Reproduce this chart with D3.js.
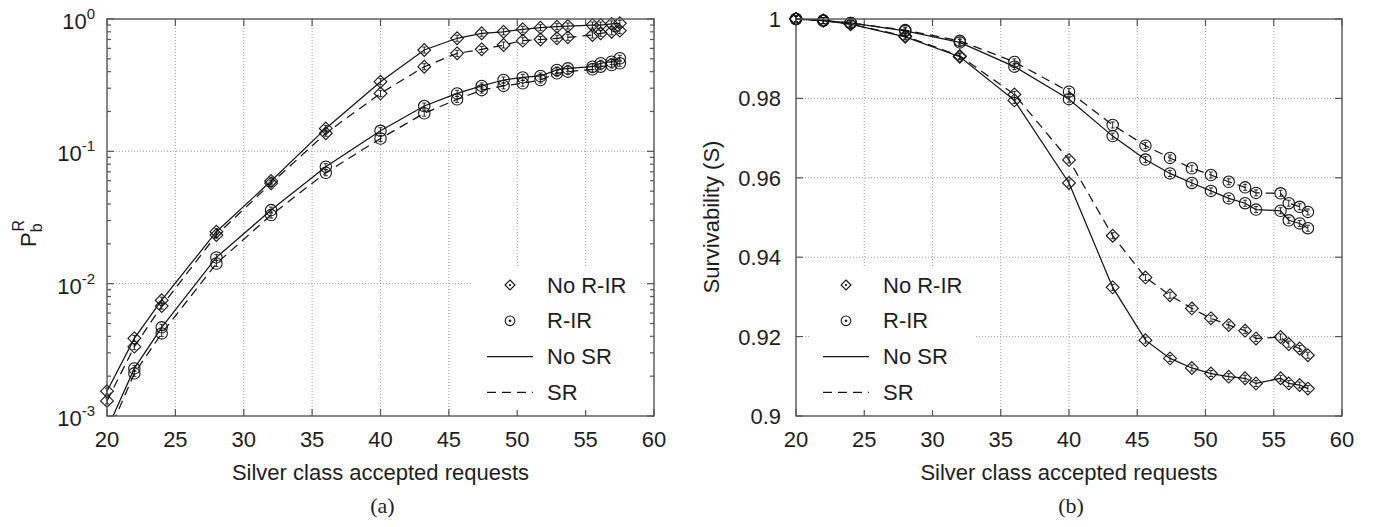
<!DOCTYPE html>
<html>
<head>
<meta charset="utf-8">
<script src="https://cdn.jsdelivr.net/npm/d3@7"></script>
<style>
  body { margin: 0; background: #fff; }
  text { font-family: "Liberation Sans", Arial, sans-serif; fill: #1e1e1e; }
</style>
</head>
<body>
<svg id="fig" width="1376" height="527"></svg>
<script>
// x values (silver class accepted requests) shared by all series
const xVals = [20, 22, 24, 28, 32, 36, 40, 43.2, 45.6, 47.4, 49, 50.4, 51.7, 52.9, 53.7, 55.5, 56.1, 56.9, 57.5];
const xTicks = [20, 25, 30, 35, 40, 45, 50, 55, 60];

// (a) blocking probability P_b^R
const pbNoRirNoSr = [0.00154, 0.00386, 0.0075, 0.0247, 0.0597, 0.149, 0.336, 0.583, 0.715, 0.78, 0.80, 0.836, 0.86, 0.875, 0.885, 0.90, 0.90, 0.917, 0.928];
const pbNoRirSr   = [0.0013, 0.00334, 0.00677, 0.0233, 0.0573, 0.137, 0.274, 0.436, 0.55, 0.59, 0.636, 0.686, 0.70, 0.715, 0.727, 0.757, 0.78, 0.80, 0.816];
const pbRirNoSr   = [0.00079, 0.00229, 0.00468, 0.0158, 0.036, 0.0765, 0.143, 0.22, 0.274, 0.312, 0.346, 0.362, 0.371, 0.412, 0.424, 0.436, 0.463, 0.476, 0.505];
const pbRirSr     = [0.0007, 0.0021, 0.00421, 0.0142, 0.033, 0.0689, 0.125, 0.194, 0.247, 0.29, 0.312, 0.327, 0.346, 0.389, 0.40, 0.417, 0.436, 0.449, 0.463];
const pbTicks = [1e-3, 1e-2, 1e-1, 1];
const pbTickExp = ["-3", "-2", "-1", "0"];

// (b) survivability S
const sNoRirNoSr = [1.0, 0.9996, 0.9987, 0.9955, 0.9905, 0.9795, 0.9587, 0.9324, 0.9191, 0.9145, 0.9121, 0.9107, 0.9099, 0.9095, 0.9082, 0.9095, 0.9082, 0.9078, 0.9069];
const sNoRirSr   = [1.0, 0.9996, 0.9987, 0.9957, 0.9907, 0.981, 0.9645, 0.9454, 0.9349, 0.9304, 0.9271, 0.9246, 0.9229, 0.9215, 0.9195, 0.9199, 0.9181, 0.917, 0.9153];
const sRirNoSr   = [1.0, 0.9996, 0.999, 0.997, 0.9941, 0.988, 0.9798, 0.9705, 0.9646, 0.9611, 0.9587, 0.9567, 0.9548, 0.9536, 0.952, 0.9517, 0.9493, 0.9485, 0.9473];
const sRirSr     = [1.0, 0.9996, 0.999, 0.9972, 0.9945, 0.9892, 0.9817, 0.9733, 0.9681, 0.965, 0.9624, 0.9607, 0.959, 0.9576, 0.9562, 0.9561, 0.9536, 0.9527, 0.9514];
const sTicks = [0.9, 0.92, 0.94, 0.96, 0.98, 1];
const sTickLabels = ["0.9", "0.92", "0.94", "0.96", "0.98", "1"];

const legendLabels = ["No R-IR", "R-IR", "No SR", "SR"];
const xTitle = "Silver class accepted requests";

const svg = d3.select("#fig");
const axisColor = "#555";
const lineColor = "#151515";

function diamondPath(s) {
  return `M0,${-s}L${s},0L0,${s}L${-s},0Z`;
}

function drawPanel(o) {
  const g = svg.append("g").attr("id", o.id);
  const x = d3.scaleLinear([20, 60], [o.left, o.right]);
  const y = o.y;
  const top = o.top, bottom = o.bottom;

  // grid
  g.append("g").selectAll("line").data(xTicks.slice(1, -1)).join("line")
    .attr("x1", d => x(d)).attr("x2", d => x(d))
    .attr("y1", top).attr("y2", bottom)
    .attr("stroke", "#888").attr("stroke-width", 0.8).attr("stroke-dasharray", "1,2");
  g.append("g").selectAll("line").data(o.yTicks.slice(1, -1)).join("line")
    .attr("x1", o.left).attr("x2", o.right)
    .attr("y1", d => y(d)).attr("y2", d => y(d))
    .attr("stroke", "#888").attr("stroke-width", 0.8).attr("stroke-dasharray", "1,2");

  // ticks (inward)
  const tk = g.append("g").attr("stroke", axisColor).attr("stroke-width", 1.2);
  xTicks.forEach(d => {
    tk.append("line").attr("x1", x(d)).attr("x2", x(d)).attr("y1", bottom).attr("y2", bottom - 7);
    tk.append("line").attr("x1", x(d)).attr("x2", x(d)).attr("y1", top).attr("y2", top + 7);
  });
  o.yTicks.forEach(d => {
    tk.append("line").attr("x1", o.left).attr("x2", o.left + 7).attr("y1", y(d)).attr("y2", y(d));
    tk.append("line").attr("x1", o.right).attr("x2", o.right - 7).attr("y1", y(d)).attr("y2", y(d));
  });
  (o.minorTicks || []).forEach(d => {
    tk.append("line").attr("x1", o.left).attr("x2", o.left + 4).attr("y1", y(d)).attr("y2", y(d));
    tk.append("line").attr("x1", o.right).attr("x2", o.right - 4).attr("y1", y(d)).attr("y2", y(d));
  });

  // tick labels
  g.append("g").selectAll("text").data(xTicks).join("text")
    .attr("x", d => x(d)).attr("y", bottom + 31)
    .attr("text-anchor", "middle").attr("font-size", 22)
    .text(d => d);
  o.yLabels(g, y);

  // axis titles
  g.append("text").attr("x", (o.left + o.right) / 2).attr("y", bottom + 64)
    .attr("text-anchor", "middle").attr("font-size", 22).text(xTitle);
  o.yTitle(g);
  g.append("text").attr("x", (o.left + o.right) / 2 + 2).attr("y", bottom + 97)
    .attr("text-anchor", "middle").attr("font-size", 22)
    .style("font-family", "'Liberation Serif', 'Times New Roman', serif")
    .text(o.caption);

  // legend box (white, hides grid)
  const lg = o.legend;
  g.append("rect").attr("x", lg.x).attr("y", lg.y).attr("width", lg.w).attr("height", lg.h).attr("fill", "#fff");

  // series
  const clipId = o.id + "-clip";
  g.append("clipPath").attr("id", clipId).append("rect")
    .attr("x", 0).attr("y", top - 20).attr("width", 1376).attr("height", bottom - top + 20);
  const plot = g.append("g").attr("clip-path", `url(#${clipId})`);
  const line = d3.line().x((d, i) => x(xVals[i])).y(d => y(d));
  o.series.forEach(s => {
    plot.append("path").datum(s.values)
      .attr("fill", "none").attr("stroke", lineColor).attr("stroke-width", 1.25)
      .attr("stroke-dasharray", s.dashed ? "9,6" : null)
      .attr("d", line);
    const m = plot.append("g").selectAll("g").data(s.values).join("g")
      .attr("transform", (d, i) => `translate(${x(xVals[i])},${y(d)})`)
      .attr("fill", "none").attr("stroke", lineColor).attr("stroke-width", 1.1);
    if (s.marker === "diamond") m.append("path").attr("d", diamondPath(6.4));
    else m.append("circle").attr("r", 5.7);
    // small error bars inside markers
    m.append("path").attr("d", "M0,-3V3M-2,-3H2M-2,3H2").attr("stroke-width", 0.9);
  });

  // frame
  g.append("rect").attr("x", o.left).attr("y", top)
    .attr("width", o.right - o.left).attr("height", bottom - top)
    .attr("fill", "none").attr("stroke", axisColor).attr("stroke-width", 1.4);

  // legend entries
  const rows = lg.y + 18;
  const step = 35.8;
  const mx = lg.x + 37, lx0 = lg.x + 14, lx1 = lg.x + 60, tx = lg.x + 74;
  const lgg = g.append("g").attr("stroke", lineColor).attr("fill", "none");
  lgg.append("path").attr("d", diamondPath(5)).attr("transform", `translate(${mx},${rows})`).attr("stroke-width", 1.1);
  lgg.append("circle").attr("cx", mx).attr("cy", rows + step).attr("r", 4.8).attr("stroke-width", 1.1);
  lgg.append("circle").attr("cx", mx).attr("cy", rows + step).attr("r", 0.9).attr("fill", lineColor);
  lgg.append("line").attr("x1", lx0).attr("x2", lx1).attr("y1", rows + 2 * step).attr("y2", rows + 2 * step).attr("stroke-width", 1.2);
  lgg.append("line").attr("x1", lx0).attr("x2", lx1).attr("y1", rows + 3 * step).attr("y2", rows + 3 * step)
    .attr("stroke-width", 1.2).attr("stroke-dasharray", "9,6");
  lgg.append("circle").attr("cx", mx).attr("cy", rows).attr("r", 0.7).attr("fill", lineColor);
  g.append("g").selectAll("text").data(legendLabels).join("text")
    .attr("x", tx).attr("y", (d, i) => rows + i * step + 7.5)
    .attr("font-size", 22).text(d => d);
}

// panel (a)
const yA = d3.scaleLog([1e-3, 1], [416, 19]);
const minorA = [];
[1e-3, 1e-2, 1e-1].forEach(dec => { for (let k = 2; k <= 9; k++) minorA.push(dec * k); });
drawPanel({
  id: "panelA", left: 107, right: 654, top: 19, bottom: 416,
  y: yA, yTicks: pbTicks, minorTicks: minorA, caption: "(a)",
  legend: { x: 473, y: 267, w: 167, h: 143 },
  series: [
    { values: pbNoRirNoSr, marker: "diamond", dashed: false },
    { values: pbNoRirSr, marker: "diamond", dashed: true },
    { values: pbRirNoSr, marker: "circle", dashed: false },
    { values: pbRirSr, marker: "circle", dashed: true }
  ],
  yLabels: (g, y) => {
    const t = g.append("g").selectAll("text").data(pbTicks).join("text")
      .attr("x", 95).attr("y", d => y(d) + 10)
      .attr("text-anchor", "end").attr("font-size", 22);
    t.append("tspan").text("10");
    t.append("tspan").attr("font-size", 15).attr("dy", -10).text((d, i) => pbTickExp[i]);
  },
  yTitle: g => {
    const t = g.append("text").attr("transform", "translate(36,247) rotate(-90)").attr("font-size", 22);
    t.append("tspan").text("P");
    t.append("tspan").attr("font-size", 16).attr("dy", 6).text("b");
    t.append("tspan").attr("font-size", 16).attr("dx", -8).attr("dy", -18).text("R");
  }
});

// panel (b)
const yB = d3.scaleLinear([0.9, 1], [416, 19]);
drawPanel({
  id: "panelB", left: 796, right: 1342, top: 19, bottom: 416,
  y: yB, yTicks: sTicks, caption: "(b)",
  legend: { x: 809, y: 267, w: 167, h: 143 },
  series: [
    { values: sNoRirNoSr, marker: "diamond", dashed: false },
    { values: sNoRirSr, marker: "diamond", dashed: true },
    { values: sRirNoSr, marker: "circle", dashed: false },
    { values: sRirSr, marker: "circle", dashed: true }
  ],
  yLabels: (g, y) => {
    g.append("g").selectAll("text").data(sTicks).join("text")
      .attr("x", 781).attr("y", d => y(d) + 8)
      .attr("text-anchor", "end").attr("font-size", 22)
      .text((d, i) => sTickLabels[i]);
  },
  yTitle: g => {
    g.append("text").attr("transform", "translate(719,217) rotate(-90)")
      .attr("text-anchor", "middle").attr("font-size", 22).text("Survivability (S)");
  }
});
</script>
</body>
</html>
